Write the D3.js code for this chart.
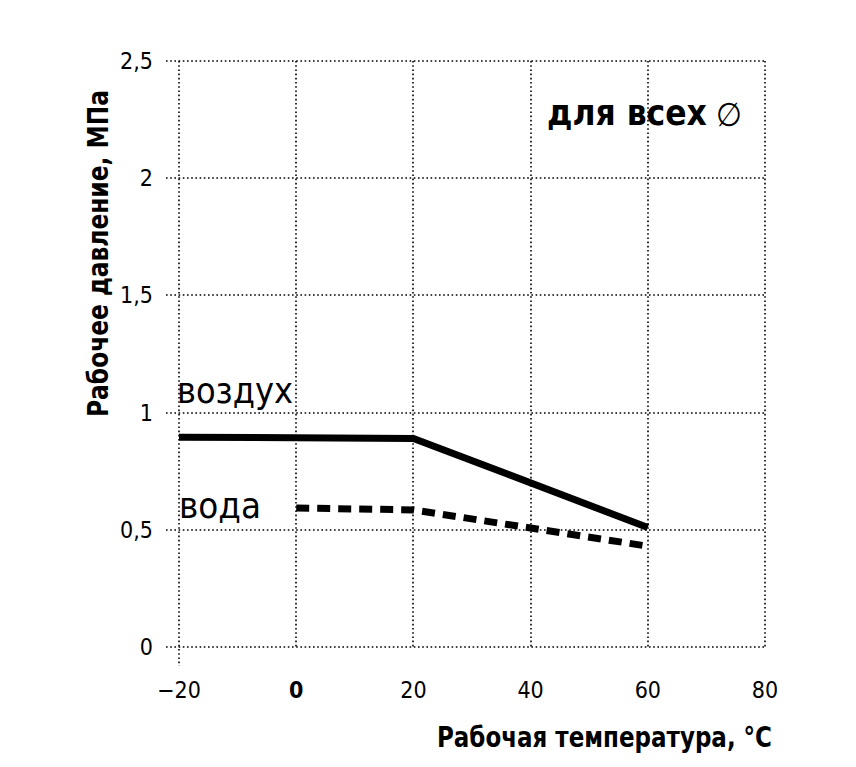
<!DOCTYPE html>
<html lang="ru">
<head>
<meta charset="UTF-8">
<script src="https://cdn.jsdelivr.net/npm/d3@7.8.5/dist/d3.min.js"></script>
<title>Рабочее давление</title>
<style>
  body { margin: 0; background: #fff; }
  text { font-family: "Liberation Sans Narrow", "DejaVu Sans Condensed", "Noto Sans", sans-serif; font-stretch: condensed; fill: #000; }
  .grid line { stroke: #000; stroke-width: 1.6; stroke-dasharray: 1.6 2.6; }
</style>
</head>
<body>
<svg width="856" height="767"></svg>
<script>
// temperature (°C) -> working pressure (MPa)
var airTemp = [-20, 20, 60];
var airPressure = [0.895, 0.89, 0.51];
var waterTemp = [0, 20, 60];
var waterPressure = [0.593, 0.585, 0.43];

var xTicks = [-20, 0, 20, 40, 60, 80];
var yTicks = [0, 0.5, 1, 1.5, 2, 2.5];
var yTickLabels = ["0", "0,5", "1", "1,5", "2", "2,5"];

var svg = d3.select("svg");
var x = d3.scaleLinear().domain([-20, 80]).range([179, 765]);
var y = d3.scaleLinear().domain([0, 2.5]).range([647, 61]);

// grid (snapped to whole pixels so the dots stay crisp)
var grid = svg.append("g").attr("class", "grid");
grid.selectAll(".h").data(yTicks).enter().append("line")
    .attr("x1", x(-20) - 13).attr("x2", x(80))
    .attr("y1", function(d){ return Math.round(y(d)); }).attr("y2", function(d){ return Math.round(y(d)); });
grid.selectAll(".v").data(xTicks).enter().append("line")
    .attr("x1", function(d){ return Math.round(x(d)); }).attr("x2", function(d){ return Math.round(x(d)); })
    .attr("y1", y(2.5))
    .attr("y2", function(d){ return d === -20 ? y(0) + 19 : y(0); });

// tick labels
svg.selectAll(".yl").data(yTicks).enter().append("text")
    .attr("x", 153).attr("y", function(d){ return y(d) + 8; })
    .attr("text-anchor", "end").attr("font-size", 23)
    .text(function(d, i){ return yTickLabels[i]; });
svg.selectAll(".xl").data(xTicks).enter().append("text")
    .attr("x", function(d){ return x(d); }).attr("y", 698)
    .attr("text-anchor", "middle").attr("font-size", 23)
    .attr("font-weight", function(d){ return d === 0 ? "bold" : "normal"; })
    .text(function(d){ return d < 0 ? "\u2212" + Math.abs(d) : d; });

// axis titles
svg.append("text").attr("x", 437).attr("y", 747)
    .attr("font-size", 28).attr("font-weight", "bold")
    .attr("textLength", 335).attr("lengthAdjust", "spacingAndGlyphs")
    .text("Рабочая температура, °C");
svg.append("text")
    .attr("transform", "translate(108,417) rotate(-90)")
    .attr("font-size", 28).attr("font-weight", "bold")
    .attr("textLength", 327).attr("lengthAdjust", "spacingAndGlyphs")
    .text("Рабочее давление, МПа");

// lines
var line = d3.line().x(function(d){ return x(d[0]); }).y(function(d){ return y(d[1]); });
svg.append("path")
    .datum(d3.zip(airTemp, airPressure))
    .attr("d", line).attr("fill", "none").attr("stroke", "#000").attr("stroke-width", 7);
svg.append("path")
    .datum(d3.zip(waterTemp, waterPressure))
    .attr("d", line).attr("fill", "none").attr("stroke", "#000").attr("stroke-width", 7)
    .attr("stroke-dasharray", "13 8");

// labels
svg.append("text").attr("x", 547).attr("y", 125).attr("font-size", 35).attr("font-weight", "bold")
    .text("для всех");
svg.append("text").attr("x", 177).attr("y", 403).attr("font-size", 36)
    .attr("textLength", 116).attr("lengthAdjust", "spacingAndGlyphs").text("воздух");
svg.append("text").attr("x", 179).attr("y", 518).attr("font-size", 36)
    .attr("textLength", 82).attr("lengthAdjust", "spacingAndGlyphs").text("вода");
svg.append("text").attr("x", 716).attr("y", 126).attr("font-size", 33)
    .text("\u2205");
</script>
</body>
</html>
